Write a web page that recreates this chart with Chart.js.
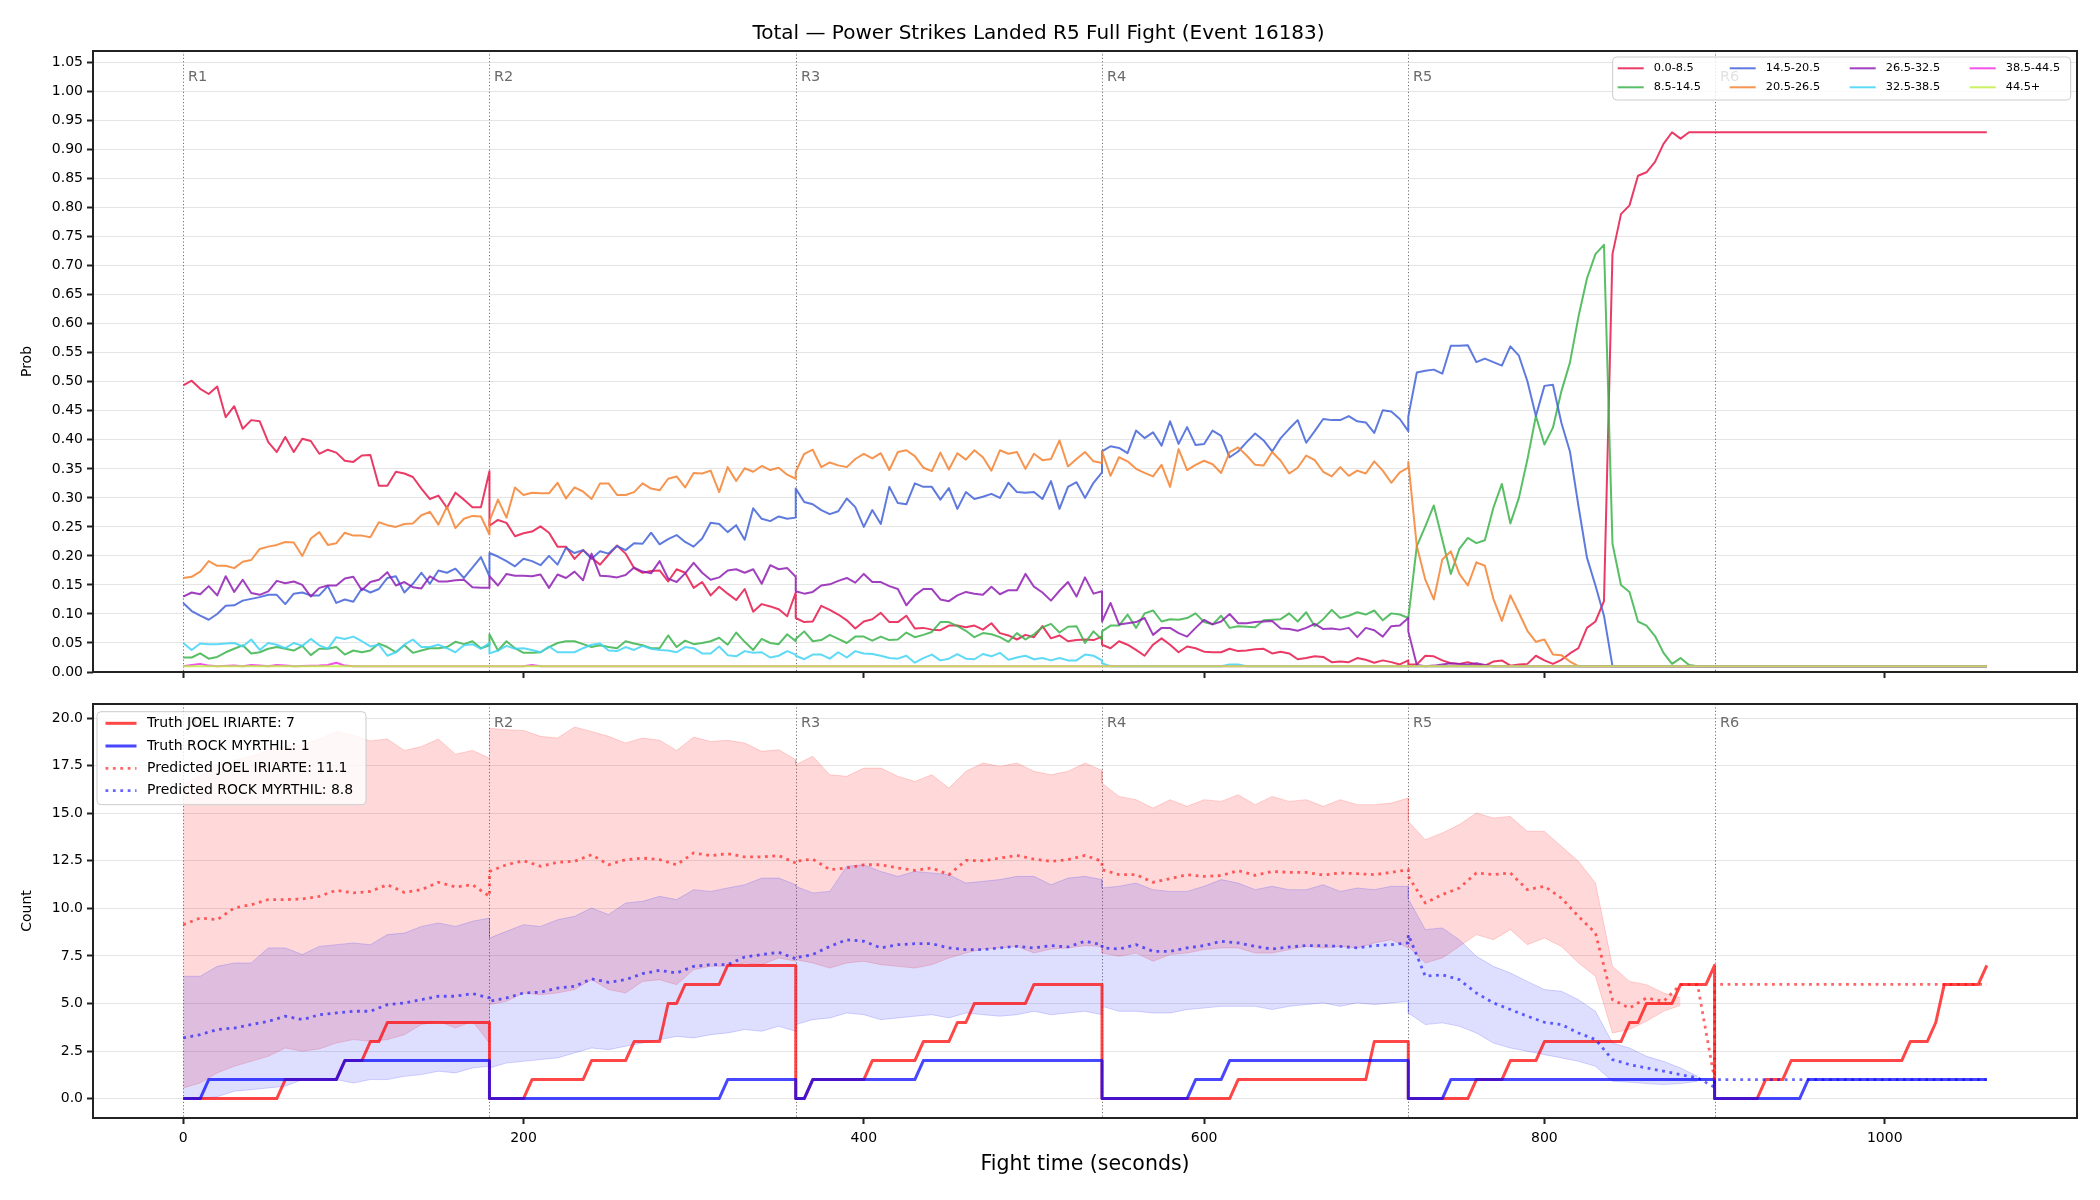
<!DOCTYPE html>
<html>
<head>
<meta charset="utf-8">
<title>Power Strikes Landed</title>
<script src="https://cdn.jsdelivr.net/npm/chart.js@4.4.1/dist/chart.umd.min.js"></script>
<style>
  html, body { margin: 0; padding: 0; background: #fff; }
  .panel { position: absolute; left: 0; }
  #probChart { top: 0; }
  #countChart { top: 690px; }
</style>
</head>
<body>
<canvas id="probChart" class="panel" width="2100" height="690"></canvas>
<canvas id="countChart" class="panel" width="2100" height="510"></canvas>
<script>
const chartTitle = 'Total — Power Strikes Landed R5 Full Fight (Event 16183)';
const roundStarts = [0, 180, 360, 540, 720, 900];
const roundNames = ['R1', 'R2', 'R3', 'R4', 'R5', 'R6'];
const timeTicks = [0, 200, 400, 600, 800, 1000];
const bucketLabels = ['0.0-8.5', '8.5-14.5', '14.5-20.5', '20.5-26.5', '26.5-32.5', '32.5-38.5', '38.5-44.5', '44.5+'];

// top panel: one sample every 5 s, each round restarts on its boundary
const probTimes = [
  0,5,10,15,20,25,30,35,40,45,50,55,60,65,70,75,80,85,90,95,100,105,110,115,120,125,130,135,140,145,150,155,160,165,170,175,180,
  180,185,190,195,200,205,210,215,220,225,230,235,240,245,250,255,260,265,270,275,280,285,290,295,300,305,310,315,320,325,330,335,340,345,350,355,360,
  360,365,370,375,380,385,390,395,400,405,410,415,420,425,430,435,440,445,450,455,460,465,470,475,480,485,490,495,500,505,510,515,520,525,530,535,540,
  540,545,550,555,560,565,570,575,580,585,590,595,600,605,610,615,620,625,630,635,640,645,650,655,660,665,670,675,680,685,690,695,700,705,710,715,720,
  720,725,730,735,740,745,750,755,760,765,770,775,780,785,790,795,800,805,810,815,820,825,830,835,840,845,850,855,860,865,870,875,880,885,890,895,900,
  1060
];
const prob0to8 = [
  .494,.502,.488,.479,.492,.439,.458,.419,.434,.432,.396,.379,.405,.379,.402,.398,.376,.383,.378,.364,.362,.373,.374,.321,.321,.345,.342,.336,.316,.298,.304,.283,.309,.297,.284,.284,.346,
  .252,.262,.257,.234,.239,.242,.251,.240,.216,.216,.195,.210,.197,.185,.202,.218,.204,.179,.171,.174,.175,.156,.177,.171,.145,.155,.132,.147,.135,.124,.143,.104,.117,.113,.108,.096,.137,
  .093,.086,.087,.114,.107,.099,.089,.075,.087,.091,.102,.086,.086,.097,.075,.076,.073,.072,.080,.080,.077,.080,.073,.084,.067,.063,.056,.064,.060,.079,.058,.063,.053,.055,.056,.055,.061,
  .047,.041,.053,.047,.038,.028,.047,.058,.047,.034,.044,.041,.035,.034,.034,.040,.036,.037,.039,.040,.032,.035,.032,.022,.024,.027,.026,.017,.018,.017,.024,.021,.016,.020,.017,.013,.020,
  .013,.013,.028,.027,.020,.015,.014,.017,.013,.011,.018,.020,.011,.013,.014,.028,.020,.014,.021,.032,.041,.076,.087,.122,.720,.789,.804,.855,.861,.879,.910,.930,.919,.930,.930,.930,.930,
  .930
];
const prob8to14 = [
  .025,.025,.032,.023,.026,.034,.040,.046,.032,.034,.040,.043,.040,.037,.045,.029,.040,.040,.043,.030,.037,.034,.037,.049,.043,.034,.046,.033,.037,.041,.041,.043,.052,.048,.053,.041,.046,
  .065,.037,.053,.041,.033,.033,.034,.043,.050,.053,.053,.048,.043,.046,.043,.041,.053,.049,.046,.041,.041,.063,.043,.054,.048,.050,.053,.059,.047,.068,.052,.038,.057,.050,.048,.065,.053,
  .057,.070,.053,.055,.064,.057,.050,.061,.061,.054,.061,.055,.056,.068,.060,.064,.069,.086,.086,.079,.071,.060,.067,.065,.060,.052,.067,.056,.065,.077,.083,.068,.078,.079,.050,.070,.056,
  .070,.080,.080,.099,.076,.101,.106,.087,.091,.090,.093,.101,.086,.082,.097,.076,.079,.078,.077,.089,.090,.091,.101,.087,.103,.079,.091,.107,.093,.097,.103,.099,.106,.089,.101,.099,.093,
  .093,.217,.251,.287,.228,.169,.212,.231,.222,.227,.283,.324,.256,.300,.366,.441,.392,.421,.484,.533,.612,.678,.720,.736,.221,.150,.138,.087,.080,.062,.033,.014,.024,.012,.010,.010,.010,
  .010
];
const prob14to20 = [
  .119,.105,.097,.090,.100,.114,.115,.123,.126,.129,.133,.133,.117,.135,.137,.132,.132,.148,.119,.125,.121,.144,.137,.143,.162,.165,.137,.152,.171,.152,.175,.171,.178,.162,.180,.198,.165,
  .205,.199,.191,.182,.195,.191,.184,.200,.185,.214,.205,.210,.195,.208,.204,.217,.210,.222,.221,.240,.220,.229,.236,.224,.216,.230,.257,.255,.241,.253,.228,.282,.264,.260,.268,.264,.266,
  .316,.293,.289,.279,.272,.277,.299,.284,.250,.279,.255,.319,.291,.289,.325,.319,.319,.297,.317,.281,.310,.298,.302,.307,.300,.326,.310,.309,.310,.298,.329,.281,.319,.327,.300,.326,.344,
  .380,.389,.386,.377,.416,.403,.413,.390,.432,.393,.422,.391,.393,.416,.407,.370,.380,.396,.411,.399,.380,.403,.419,.434,.395,.415,.436,.434,.434,.441,.432,.430,.412,.451,.449,.436,.415,
  .440,.516,.519,.521,.514,.562,.562,.563,.534,.540,.534,.528,.561,.545,.501,.441,.493,.495,.429,.380,.286,.197,.149,.097,
  .010,.010,.010,.010,.010,.010,.010,.010,.010,.010,.010,.010,.010,
  .010
];
const prob20to26 = [
  .162,.164,.173,.191,.183,.183,.179,.190,.193,.212,.216,.219,.224,.223,.200,.230,.241,.219,.222,.240,.235,.235,.232,.258,.253,.250,.255,.256,.270,.276,.254,.285,.248,.264,.269,.268,.237,
  .260,.297,.266,.318,.305,.309,.308,.308,.326,.299,.318,.311,.298,.325,.325,.305,.305,.310,.325,.316,.313,.333,.337,.318,.343,.342,.347,.310,.353,.329,.351,.345,.355,.348,.352,.340,.333,
  .345,.376,.383,.353,.361,.356,.353,.367,.376,.368,.377,.348,.379,.382,.372,.352,.346,.378,.349,.377,.366,.382,.370,.347,.382,.376,.379,.350,.376,.365,.367,.399,.354,.367,.379,.363,.360,
  .380,.338,.370,.363,.350,.343,.337,.357,.319,.384,.348,.357,.364,.358,.343,.379,.387,.373,.357,.356,.379,.364,.342,.352,.373,.365,.345,.337,.353,.338,.347,.342,.363,.347,.326,.344,.352,
  .362,.217,.159,.125,.194,.208,.169,.149,.189,.183,.126,.088,.132,.102,.071,.052,.056,.030,.029,.018,.010,
  .010,.010,.010,.010,.010,.010,.010,.010,.010,.010,.010,.010,.010,.010,.010,.010,
  .010
];
const prob26to32 = [
  .130,.137,.134,.148,.132,.165,.138,.159,.136,.133,.139,.157,.153,.156,.150,.130,.145,.149,.149,.161,.164,.141,.155,.159,.172,.149,.155,.146,.144,.165,.156,.156,.158,.159,.146,.145,.145,
  .165,.149,.169,.166,.166,.165,.168,.145,.168,.162,.173,.158,.204,.166,.165,.163,.167,.180,.173,.170,.191,.161,.155,.170,.188,.171,.159,.163,.175,.177,.171,.177,.152,.184,.177,.179,.164,
  .139,.135,.138,.149,.151,.157,.162,.154,.169,.155,.155,.148,.143,.115,.132,.143,.143,.125,.122,.132,.138,.135,.133,.147,.134,.141,.141,.169,.147,.137,.123,.140,.155,.130,.163,.135,.139,
  .087,.119,.082,.084,.086,.093,.064,.076,.076,.067,.061,.076,.090,.082,.087,.100,.084,.084,.086,.087,.088,.075,.074,.071,.076,.083,.074,.075,.073,.076,.060,.076,.072,.061,.079,.080,.093,
  .070,.012,.010,.011,.013,.015,.014,.013,.015,.012,
  .010,.010,.010,.010,.010,.010,.010,.010,.010,.010,
  .010,.010,.010,.010,.010,.010,.010,.010,.010,.010,
  .010,.010,.010,.010,.010,.010,.010,
  .010
];
const prob32to38 = [
  .050,.038,.049,.048,.048,.049,.050,.044,.056,.038,.050,.047,.041,.050,.045,.057,.046,.040,.060,.057,.061,.053,.044,.047,.028,.034,.047,.056,.043,.043,.047,.041,.034,.046,.048,.040,.050,
  .032,.037,.045,.040,.041,.038,.034,.044,.034,.034,.034,.041,.047,.049,.037,.036,.043,.038,.045,.040,.038,.037,.034,.043,.041,.032,.032,.044,.029,.027,.036,.033,.034,.025,.028,.036,.030,
  .028,.022,.030,.030,.023,.034,.025,.036,.032,.031,.028,.024,.023,.028,.016,.024,.030,.020,.023,.031,.023,.022,.031,.027,.033,.021,.025,.028,.022,.024,.020,.024,.020,.020,.030,.028,.020,
  .015,.010,.010,.010,.010,.010,.010,.010,.010,.010,.010,.010,.010,.010,.010,.013,.013,
  .010,.010,.010,.010,.010,.010,.010,.010,.010,.010,.010,.010,.010,.010,.010,.010,.010,.010,.010,.010,
  .010,.010,.010,.010,.010,.010,.010,.010,.010,.010,.010,.010,.010,.010,.010,.010,.010,.010,.010,.010,
  .010,.010,.010,.010,.010,.010,.010,.010,.010,.010,.010,.010,.010,.010,.010,.010,.010,
  .010
];
// the two widest buckets sit on the floor, so their flat stretches need few points
const magentaTimes = [0,5,10,15,20,30,35,40,45,50,55,60,65,80,85,90,95,100,200,205,210,1060];
const magentaValues = [.010,.012,.014,.011,.010,.011,.010,.012,.011,.010,.012,.011,.010,.011,.012,.016,.011,.010,.010,.012,.010,.010];
const limeTimes = [0, 1060];
const limeValues = [.010, .010];

// bottom panel: one sample every 10 s
const countTimes = [
  0,10,20,30,40,50,60,70,80,90,100,110,120,130,140,150,160,170,180,
  180,190,200,210,220,230,240,250,260,270,280,290,300,310,320,330,340,350,360,
  360,370,380,390,400,410,420,430,440,450,460,470,480,490,500,510,520,530,540,
  540,550,560,570,580,590,600,610,620,630,640,650,660,670,680,690,700,710,720,
  720,730,740,750,760,770,780,790,800,810,820,830,840,850,860,870,880,890,900,
  900,910,920,930,940,950,960,970,980,990,1000,1010,1020,1030,1040,1050,1060
];
const predJoel = [
  9.14,9.49,9.40,10.02,10.19,10.46,10.46,10.49,10.63,10.95,10.81,10.89,11.24,10.84,10.98,11.37,11.12,11.24,10.63,
  11.94,12.29,12.50,12.21,12.42,12.47,12.82,12.29,12.56,12.64,12.56,12.29,12.91,12.77,12.87,12.70,12.70,12.77,12.38,
  12.47,12.59,12.03,12.12,12.29,12.29,12.12,12.00,12.12,11.77,12.52,12.50,12.64,12.78,12.59,12.47,12.56,12.78,12.47,
  12.03,11.77,11.77,11.37,11.56,11.77,11.68,11.72,11.98,11.73,11.94,11.89,11.89,11.75,11.86,11.82,11.77,11.89,12.03,
  11.68,10.28,10.72,11.07,11.86,11.77,11.86,10.98,11.16,10.54,9.58,8.70,5.20,4.76,5.29,5.11,5.99,5.99,1.00,
  6.00,6.00,6.00,6.00,6.00,6.00,6.00,6.00,6.00,6.00,6.00,6.00,6.00,6.00,6.00,6.00,6.00
];
const predRock = [
  3.19,3.36,3.63,3.71,3.89,4.06,4.33,4.15,4.41,4.50,4.59,4.59,4.94,5.03,5.20,5.38,5.38,5.52,5.29,
  5.11,5.29,5.55,5.59,5.81,5.90,6.29,6.11,6.25,6.57,6.74,6.60,6.95,7.04,7.04,7.44,7.57,7.69,7.35,
  7.40,7.57,8.00,8.35,8.27,7.92,8.09,8.14,8.14,7.92,7.83,7.83,7.92,8.00,7.92,8.04,7.97,8.27,8.09,
  7.92,7.86,8.09,7.74,7.74,7.92,8.04,8.27,8.18,8.00,7.86,7.97,8.04,8.04,8.00,7.92,8.04,8.09,8.18,
  8.62,6.43,6.51,6.25,5.55,5.03,4.68,4.33,4.01,3.89,3.45,3.10,2.05,1.79,1.61,1.44,1.26,1.09,0.60,
  1.00,1.00,1.00,1.00,1.00,1.00,1.00,1.00,1.00,1.00,1.00,1.00,1.00,1.00,1.00,1.00,1.00
];
const joelHigh = [
  16.5,17.0,17.5,17.8,18.0,18.3,18.5,18.6,18.9,19.3,19.1,18.8,18.9,18.3,18.5,18.9,18.1,18.3,17.9,
  19.47,19.39,19.35,19.04,18.95,19.53,19.30,19.04,18.69,18.95,18.83,18.30,19.00,18.77,18.83,18.69,18.25,18.34,17.81,
  17.55,17.99,17.02,16.94,17.37,17.37,16.94,16.67,17.02,16.32,17.20,17.64,17.46,17.64,17.20,17.02,17.20,17.64,17.25,
  16.58,15.88,15.71,15.27,15.71,15.36,15.71,15.62,15.97,15.45,15.88,15.62,15.71,15.36,15.71,15.45,15.45,15.53,15.80,
  14.57,13.61,13.96,14.40,15.01,14.75,14.83,14.05,14.05,13.26,12.47,11.33,6.95,6.16,5.99,5.55,5.30,null,null,
  null,null,null,null,null,null,null,null,null,null,null,null,null,null,null,null,null
];
const joelLow = [
  0.56,0.82,1.35,1.70,1.96,2.22,2.66,2.49,2.61,2.92,3.10,3.01,3.10,3.36,3.89,4.06,3.71,4.06,2.92,
  4.94,5.11,5.55,5.46,5.55,5.73,6.25,5.73,5.55,6.16,6.25,5.99,6.78,6.95,6.95,7.13,7.04,7.39,7.22,
  7.30,7.13,6.86,7.13,7.22,7.04,6.95,6.86,7.04,7.39,7.65,7.86,7.92,8.00,7.65,7.86,7.92,8.04,8.00,
  7.65,7.48,7.65,7.22,7.57,7.65,7.83,7.92,7.92,7.65,7.65,7.83,8.00,7.92,8.00,7.92,8.18,8.35,7.92,
  8.00,7.13,7.39,8.00,8.62,8.35,8.88,8.09,8.44,8.00,7.13,6.43,3.45,3.63,4.06,4.59,4.90,null,null,
  null,null,null,null,null,null,null,null,null,null,null,null,null,null,null,null,null
];
const rockHigh = [
  6.43,6.43,6.95,7.13,7.13,7.92,7.92,7.57,8.00,8.09,8.18,8.09,8.62,8.70,9.05,9.23,9.05,9.32,9.49,
  8.44,8.79,9.14,9.05,9.40,9.58,10.02,9.67,10.28,10.37,10.63,10.46,10.98,10.89,11.07,11.24,11.59,11.59,11.24,
  11.16,10.81,10.89,12.21,12.29,11.94,11.68,11.94,11.86,11.77,11.33,11.42,11.51,11.68,11.68,11.24,11.59,11.68,11.51,
  11.07,11.16,11.33,10.98,10.89,10.89,11.16,11.51,11.33,10.98,11.16,10.98,10.98,11.24,10.89,11.07,10.98,11.16,11.16,
  10.50,8.88,8.97,8.35,7.48,6.95,6.60,6.16,5.73,5.64,5.20,4.59,2.92,2.66,2.22,1.96,1.61,1.17,null,
  null,null,null,null,null,null,null,null,null,null,null,null,null,null,null,null,null
];
const rockLow = [
  0.00,0.00,0.10,0.39,0.47,0.56,0.65,1.00,1.00,1.00,0.82,1.00,1.00,1.17,1.26,1.44,1.35,1.61,1.70,
  1.61,1.87,1.96,2.05,2.14,2.40,2.66,2.57,2.75,2.92,3.10,3.27,3.19,3.36,3.45,3.63,3.54,3.80,3.54,
  3.89,4.15,4.24,4.50,4.41,4.15,4.24,4.33,4.41,4.24,4.50,4.41,4.33,4.41,4.59,4.41,4.50,4.59,4.41,
  4.85,4.59,4.59,4.50,4.50,4.68,4.76,4.85,4.85,4.85,4.68,4.85,4.94,5.03,4.85,5.03,4.94,5.03,5.11,
  4.50,3.89,3.98,3.80,3.45,2.92,2.66,2.49,2.31,2.14,1.96,1.70,0.91,0.86,0.79,0.74,0.79,0.91,null,
  null,null,null,null,null,null,null,null,null,null,null,null,null,null,null,null,null
];
// truth counts restart at zero every round
const joelTruthTimes = [
  0,55,60,90,95,105,110,115,120,180,
  180,200,205,235,240,260,265,280,285,290,295,315,320,360,
  360,365,370,400,405,430,435,450,455,460,465,495,500,540,
  540,615,620,695,700,720,
  720,755,760,775,780,795,800,845,850,855,860,875,880,895,900,
  900,925,930,940,945,1010,1015,1025,1030,1035,1055,1060
];
const joelTruthCounts = [
  0,0,1,1,2,2,3,3,4,4,
  0,0,1,1,2,2,3,3,5,5,6,6,7,7,
  0,0,1,1,2,2,3,3,4,4,5,5,6,6,
  0,0,1,1,3,3,
  0,0,1,1,2,2,3,3,4,4,5,5,6,6,7,
  0,0,1,1,2,2,3,3,4,6,6,7
];
const rockTruthTimes = [
  0,10,15,90,95,180,
  180,315,320,360,
  360,365,370,430,435,540,
  540,590,595,610,615,720,
  720,740,745,900,
  900,950,955,1060
];
const rockTruthCounts = [
  0,0,1,1,2,2,
  0,0,1,1,
  0,0,1,1,2,2,
  0,0,1,1,2,2,
  0,0,1,1,
  0,0,1,1
];
const countLegend = ['Truth JOEL IRIARTE: 7', 'Truth ROCK MYRTHIL: 1', 'Predicted JOEL IRIARTE: 11.1', 'Predicted ROCK MYRTHIL: 8.8'];

// ---- styling ----
const bucketColors = ['#e6194bd9', '#3cb44bd9', '#4363d8d9', '#f58231d9', '#911eb4d9', '#42d4f4d9', '#f032e6d9', '#bfef45d9'];
const FONT = '"DejaVu Sans", sans-serif';
const redLine = 'rgba(255,0,0,0.72)', blueLine = 'rgba(0,0,255,0.72)';
const redDots = 'rgba(255,0,0,0.6)', blueDots = 'rgba(0,0,255,0.6)';
const dotDash = [2.8, 4.6];

Chart.defaults.font.family = FONT;
Chart.defaults.font.size = 14;
Chart.defaults.color = '#000';

const pts = (xs, ys) => xs.map((x, i) => ({ x, y: ys[i] }));

// dotted round boundaries plus their R labels
const roundMarks = {
  id: 'roundMarks',
  beforeDatasetsDraw(chart, args, opts) {
    const { ctx, chartArea: a, scales: { x } } = chart;
    ctx.save();
    ctx.strokeStyle = 'rgba(0,0,0,0.55)';
    ctx.lineWidth = 1;
    ctx.setLineDash([1.2, 2.2]);
    ctx.font = '14.5px ' + FONT;
    ctx.fillStyle = '#6b6b6b';
    ctx.textBaseline = 'middle';
    roundStarts.forEach((t, i) => {
      const px = Math.round(x.getPixelForValue(t)) + 0.5;
      ctx.beginPath();
      ctx.moveTo(px, a.top);
      ctx.lineTo(px, a.bottom);
      ctx.stroke();
      ctx.fillText(roundNames[i], px + 4.5, a.top + opts.labelOffset);
    });
    ctx.restore();
  }
};

function roundedBox(ctx, x, y, w, h, r) {
  ctx.beginPath();
  ctx.moveTo(x + r, y);
  ctx.arcTo(x + w, y, x + w, y + h, r);
  ctx.arcTo(x + w, y + h, x, y + h, r);
  ctx.arcTo(x, y + h, x, y, r);
  ctx.arcTo(x, y, x + w, y, r);
  ctx.closePath();
}

// matplotlib-like framed legend inside the plot
const boxLegend = {
  id: 'boxLegend',
  afterDatasetsDraw(chart, args, o) {
    const { ctx, chartArea: a } = chart;
    const bx = o.right ? a.right - o.margin[0] - o.width : a.left + o.margin[0];
    const by = a.top + o.margin[1];
    ctx.save();
    roundedBox(ctx, bx, by, o.width, o.height, 4);
    ctx.fillStyle = 'rgba(255,255,255,0.8)';
    ctx.fill();
    ctx.strokeStyle = '#cccccc';
    ctx.lineWidth = 1;
    ctx.stroke();
    ctx.font = o.font;
    ctx.textBaseline = 'middle';
    o.items.forEach(it => {
      const hx = bx + it.col, hy = by + it.row;
      ctx.setLineDash(it.dash || []);
      ctx.strokeStyle = it.color;
      ctx.lineWidth = it.width;
      ctx.beginPath();
      ctx.moveTo(hx, hy);
      ctx.lineTo(hx + o.handle, hy);
      ctx.stroke();
      ctx.setLineDash([]);
      ctx.fillStyle = '#000';
      ctx.fillText(it.text, hx + o.textGap, hy);
    });
    ctx.restore();
  }
};

const frame = {
  id: 'frame',
  afterDraw(chart) {
    const { ctx, chartArea: a } = chart;
    ctx.save();
    ctx.strokeStyle = '#222';
    ctx.lineWidth = 2;
    ctx.strokeRect(a.left, a.top, a.right - a.left, a.bottom - a.top);
    ctx.restore();
  }
};

function xAxis(showLabels, height) {
  return {
    type: 'linear', min: -53, max: 1113,
    ticks: { display: showLabels, padding: 6, callback: v => String(v) },
    afterBuildTicks: s => { s.ticks = timeTicks.map(value => ({ value })); },
    grid: { drawOnChartArea: false, tickLength: 6, tickWidth: 2, tickColor: '#222' },
    border: { display: false },
    afterFit: s => { s.height = height; }
  };
}

function yAxis(min, max, step, digits, label) {
  return {
    min, max,
    ticks: { stepSize: step, includeBounds: false, maxTicksLimit: 100, padding: 4, callback: v => v.toFixed(digits) },
    grid: { color: 'rgba(0,0,0,0.1)', lineWidth: 1, tickLength: 6, tickWidth: 2, tickColor: '#222' },
    border: { display: false },
    title: { display: true, text: label, font: { size: 14 }, padding: { top: 18.6, bottom: 0 } },
    afterFit: s => { s.width = 93; }
  };
}

const probData = [prob0to8, prob8to14, prob14to20, prob20to26, prob26to32, prob32to38];

const probLegendItems = bucketLabels.map((text, i) => ({
  text, color: bucketColors[i], width: 2,
  col: [5, 117, 237, 357][Math.floor(i / 2)], row: i % 2 ? 30.3 : 11.3
}));

new Chart(document.getElementById('probChart'), {
  type: 'line',
  data: {
    datasets: bucketLabels.map((label, i) => ({
      label,
      data: i < 6 ? pts(probTimes, probData[i]) : (i === 6 ? pts(magentaTimes, magentaValues) : pts(limeTimes, limeValues)),
      borderColor: bucketColors[i],
      borderWidth: 2,
      borderJoinStyle: 'round',
      pointRadius: 0,
      fill: false,
      order: -i
    }))
  },
  options: {
    responsive: false, animation: false, devicePixelRatio: 1,
    layout: { padding: { left: 0, right: 23, top: 0, bottom: 0 } },
    elements: { line: { tension: 0 } },
    plugins: {
      legend: { display: false },
      tooltip: { enabled: false },
      title: { display: true, text: chartTitle, color: '#000', font: { size: 20, weight: 'normal' }, padding: { top: 22, bottom: 5 } },
      roundMarks: { labelOffset: 26.4 },
      boxLegend: { right: true, margin: [6.3, 6], width: 458, height: 43, handle: 26, textGap: 36, font: '11.3px ' + FONT, items: probLegendItems }
    },
    scales: { x: xAxis(false, 18), y: yAxis(0, 1.07, 0.05, 2, 'Prob') }
  },
  plugins: [roundMarks, boxLegend, frame]
});

const countX = xAxis(true, 82);
countX.title = { display: true, text: 'Fight time (seconds)', font: { size: 20.5 }, padding: { top: 4, bottom: 22.7 } };

new Chart(document.getElementById('countChart'), {
  type: 'line',
  data: {
    datasets: [
      { data: pts(countTimes, joelLow), borderColor: 'rgba(255,0,0,0.16)', borderWidth: 1, fill: false, order: 10 },
      { data: pts(countTimes, joelHigh), borderColor: 'rgba(255,0,0,0.16)', borderWidth: 1, fill: '-1', backgroundColor: 'rgba(255,0,0,0.15)', order: 9 },
      { data: pts(countTimes, rockLow), borderColor: 'rgba(0,0,255,0.16)', borderWidth: 1, fill: false, order: 8 },
      { data: pts(countTimes, rockHigh), borderColor: 'rgba(0,0,255,0.16)', borderWidth: 1, fill: '-1', backgroundColor: 'rgba(0,0,255,0.13)', order: 7 },
      { data: pts(joelTruthTimes, joelTruthCounts), borderColor: redLine, borderWidth: 3, fill: false, order: 6 },
      { data: pts(rockTruthTimes, rockTruthCounts), borderColor: blueLine, borderWidth: 3, fill: false, order: 5 },
      { data: pts(countTimes, predJoel), borderColor: redDots, borderWidth: 2.8, borderDash: dotDash, fill: false, order: 4 },
      { data: pts(countTimes, predRock), borderColor: blueDots, borderWidth: 2.8, borderDash: dotDash, fill: false, order: 3 }
    ]
  },
  options: {
    responsive: false, animation: false, devicePixelRatio: 1,
    layout: { padding: { left: 0, right: 23, top: 14, bottom: 0 } },
    elements: { point: { radius: 0 }, line: { tension: 0, borderJoinStyle: 'round' } },
    plugins: {
      legend: { display: false },
      tooltip: { enabled: false },
      roundMarks: { labelOffset: 19.7 },
      boxLegend: {
        right: false, margin: [4, 7.7], width: 269, height: 93, handle: 31, textGap: 41.6, font: '14px ' + FONT,
        items: [
          { text: countLegend[0], color: redLine, width: 3, col: 8.5, row: 11.6 },
          { text: countLegend[1], color: blueLine, width: 3, col: 8.5, row: 34.3 },
          { text: countLegend[2], color: redDots, width: 2.8, dash: dotDash, col: 8.5, row: 56.6 },
          { text: countLegend[3], color: blueDots, width: 2.8, dash: dotDash, col: 8.5, row: 79.0 }
        ]
      }
    },
    scales: { x: countX, y: yAxis(-1.02, 20.74, 2.5, 1, 'Count') }
  },
  plugins: [roundMarks, boxLegend, frame]
});
</script>
</body>
</html>
